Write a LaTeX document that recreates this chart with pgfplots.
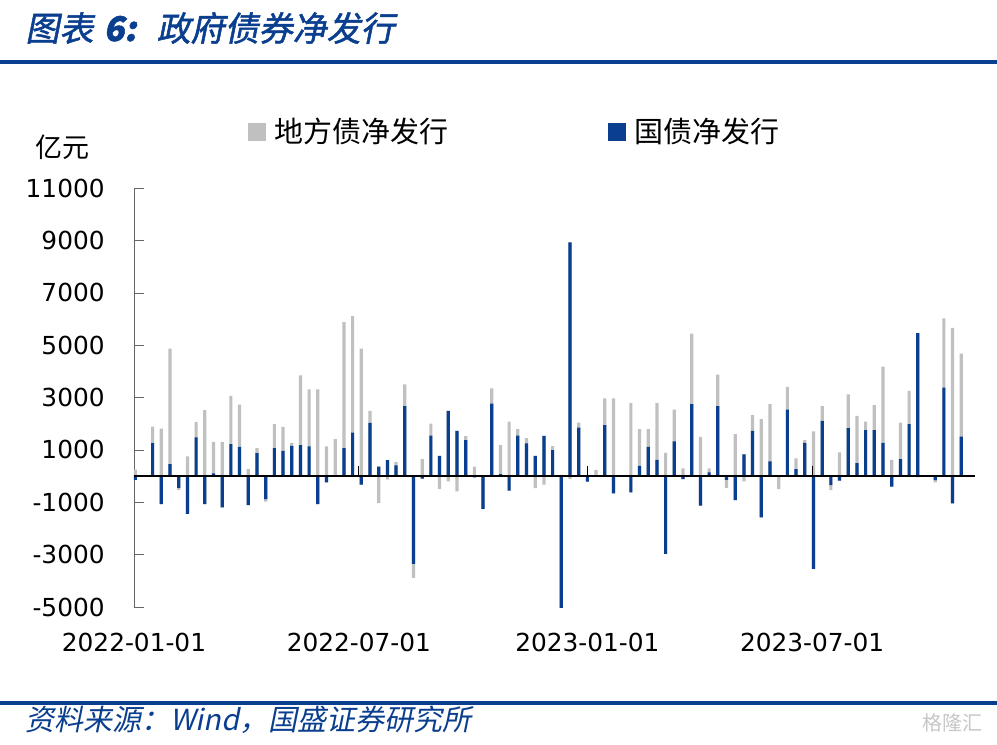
\documentclass[border=0pt]{standalone}
\usepackage{pgfplots}
\pgfplotsset{compat=1.18}
\usepackage{pgfplotstable}
\usepackage{fontspec}
\setmainfont{DejaVu Sans}
\newfontfamily\cjk{Noto Sans CJK SC}
\newfontfamily\cjkit{Noto Sans CJK SC}[FakeSlant=0.2]
\newfontfamily\cjktitle{Noto Sans CJK SC}[FakeSlant=0.2,FakeBold=1.5]
\definecolor{gsblue}{RGB}{10,62,142}
\definecolor{gsgray}{RGB}{192,192,192}

% week index, b = 国债净发行, g = 地方债净发行 (亿元)
\pgfplotstableread{
i b g
0 -150 250
1 0 0
2 1257 635
3 -1067 1816
4 457 4406
5 -450 -80
6 -1448 750
7 1473 600
8 -1067 2514
9 100 1210
10 -1194 1308
11 1219 1841
12 1117 1613
13 -1105 267
14 876 190
15 -876 -100
16 1067 914
17 965 914
18 1156 114
19 1181 2667
20 1130 2184
21 -1067 3314
22 -241 1130
23 0 1410
24 1067 4812
25 1663 4445
26 -330 4863
27 2032 457
28 356 -1029
29 610 -140
30 406 140
31 2667 838
32 -3352 -534
33 -100 650
34 1549 457
35 775 -495
36 2489 -203
37 1727 -584
38 1371 153
39 -50 356
40 -1257 0
41 2768 584
42 76 1105
43 -559 2083
44 1549 241
45 1244 204
46 775 -457
47 1537 -330
48 990 153
49 -5105 50
50 8927 -114
51 1854 190
52 -216 0
53 0 241
54 1943 1028
55 -660 2971
56 0 0
57 -622 2781
58 394 1396
59 1117 673
60 622 2159
61 -2971 889
62 1321 1219
63 -114 292
64 2743 2692
65 -1130 1498
66 140 152
67 2667 1206
68 -150 -300
69 -914 1600
70 825 -203
71 1727 597
72 -1575 2171
73 559 2184
74 0 -495
75 2540 863
76 267 406
77 1270 101
78 -3543 1702
79 2108 559
80 -343 -190
81 -178 902
82 1829 1295
83 495 1803
84 1752 331
85 1752 953
86 1270 2908
87 -406 622
88 648 1396
89 1981 1270
90 5460 -50
91 0 -30
92 -152 -90
93 3378 2641
94 -1041 5663
95 1511 3162
}\netissue

\begin{document}
\begin{tikzpicture}
\path[use as bounding box] (0,0) rectangle (498.5pt,-372.5pt);

% title and rules
\node[anchor=west, text=gsblue, inner sep=0pt] at (12.5pt,-14pt)
  {\fontsize{17}{19}\selectfont\cjktitle 图表\hspace{0.3em}{\bfseries\itshape 6:}\hspace{0.6em}政府债券净发行};
\draw[gsblue, line width=1.7pt] (0,-31pt) -- (498.5pt,-31pt);
\draw[gsblue, line width=1.7pt] (0,-351.5pt) -- (498.5pt,-351.5pt);
\node[anchor=west, text=gsblue, inner sep=0pt] at (12.5pt,-360pt)
  {\fontsize{14.5}{16}\selectfont\cjkit 资料来源：Wind，国盛证券研究所};
\node[text=gray!45, inner sep=0pt] at (476pt,-361.5pt)
  {\fontsize{10}{12}\selectfont\cjk 格隆汇};
\node[inner sep=0pt] at (31pt,-73.5pt) {\fontsize{13.5}{15}\selectfont\cjk 亿元};

\begin{axis}[
  at={(67pt,-303.5pt)}, anchor=south west,
  scale only axis, width=420.5pt, height=209.5pt,
  ybar, bar width=1.6pt,
  xmin=-0.142857, xmax=96.58,
  ymin=-5000, ymax=11000,
  scaled y ticks=false,
  axis y line*=left, axis x line*=bottom,
  x axis line style={draw=none},
  y axis line style={draw=black!60},
  xtick={-0.142857,25.714286,52,77.857143},
  xticklabels={2022-01-01,2022-07-01,2023-01-01,2023-07-01},
  xtick style={draw=none},
  xtick align=inside,
  ytick={-5000,-3000,-1000,1000,3000,5000,7000,9000,11000},
  yticklabels={-5000,-3000,-1000,1000,3000,5000,7000,9000,11000},
  ytick align=inside, major tick length=5pt,
  ytick style={draw=black!60},
  tick label style={font=\fontsize{12.4}{14}\selectfont, inner sep=0pt},
  yticklabel style={xshift=-14.5pt},
  xticklabel style={yshift=-13pt},
  legend columns=2,
  legend cell align=left,
  legend style={at={(0.1356,1.1337)}, anchor=west, draw=none, fill=none,
    inner xsep=0pt, inner ysep=0pt,
    font=\fontsize{14.5}{16}\selectfont\cjk,
    nodes={inner sep=0pt},
    /tikz/every odd column/.append style={column sep=4pt},
    /tikz/every even column/.append style={column sep=80pt}},
]
\addplot[fill=gsgray, draw=none, bar shift=0pt,
  legend image code/.code={\fill[gsgray] (0pt,-4.5pt) rectangle (9pt,4.5pt);}]
  table[x=i, y expr={max(\thisrow{b},0)+max(\thisrow{g},0)}] {\netissue};
\addlegendentry{地方债净发行}
\addplot[fill=gsgray, draw=none, bar shift=0pt, forget plot]
  table[x=i, y expr={min(\thisrow{b},0)+min(\thisrow{g},0)}] {\netissue};
\addplot[fill=gsblue, draw=none, bar shift=0pt,
  legend image code/.code={\fill[gsblue] (0pt,-4.5pt) rectangle (9pt,4.5pt);}]
  table[x=i, y=b] {\netissue};
\addlegendentry{国债净发行}
\draw[black, line width=0.6pt] (axis cs:-0.142857,0) -- (axis cs:96.58,0);
\pgfplotsinvokeforeach{25.714286,52,77.857143}{
  \draw[black, line width=0.6pt] (axis cs:#1,0) -- (axis cs:#1,380);
}
\end{axis}
\end{tikzpicture}
\end{document}
